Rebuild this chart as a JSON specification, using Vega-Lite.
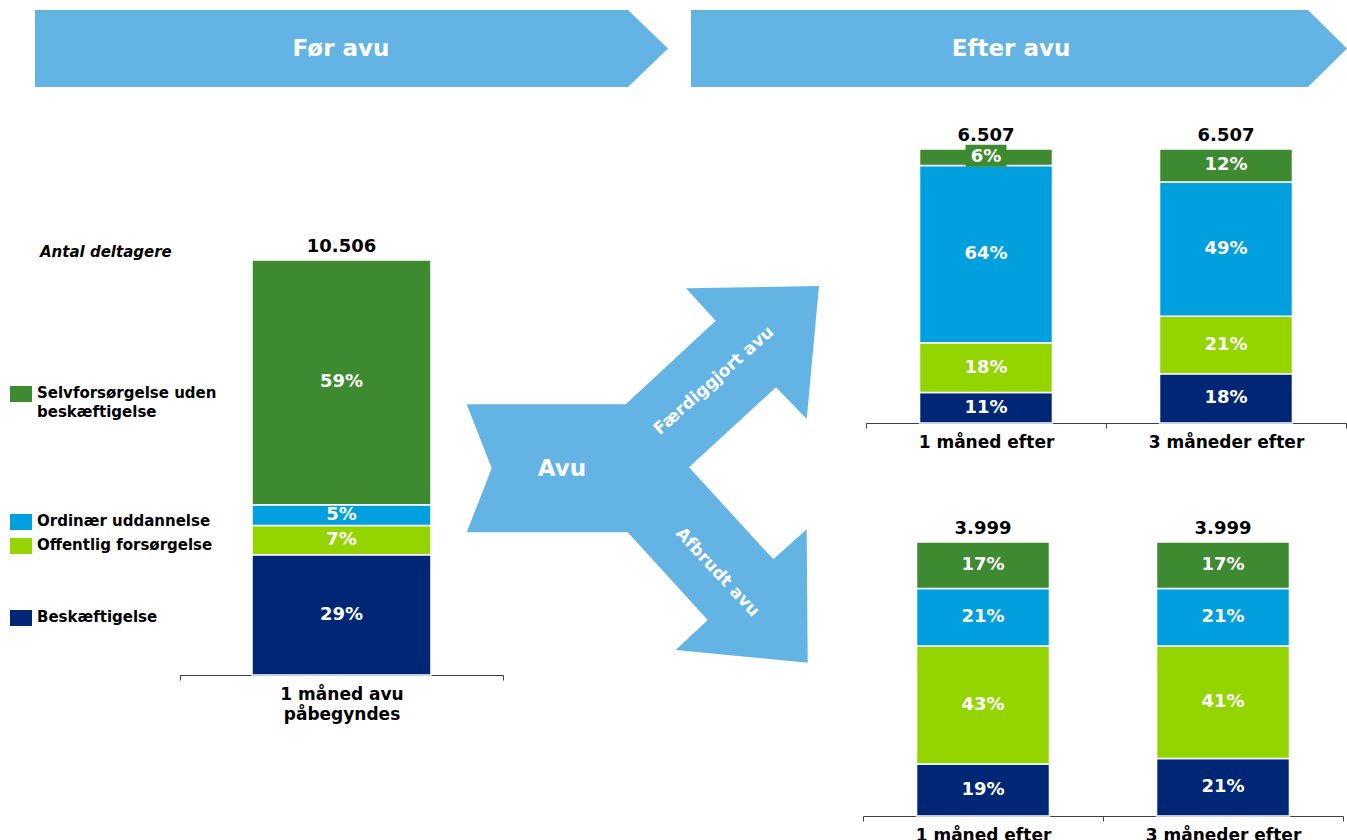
{
  "$schema": "https://vega.github.io/schema/vega-lite/v6.json",
  "width": 1347,
  "height": 840,
  "autosize": {"type": "none"},
  "padding": 0,
  "background": "white",
  "config": {
    "view": {"stroke": null},
    "font": "DejaVu Sans",
    "locale": {"number": {"decimal": ",", "thousands": ".", "grouping": [3], "currency": ["", " kr."]}},
    "axis": {
      "domainColor": "#404040", "domainWidth": 1, "tickColor": "#404040", "tickWidth": 1, "tickSize": 5,
      "tickBand": "extent", "labelFont": "DejaVu Sans", "labelFontSize": 17, "labelFontWeight": "bold",
      "labelColor": "#000000", "labelPadding": 6, "labelLineHeight": 20, "labelAngle": 0, "labelLimit": 500,
      "labelOverlap": false, "grid": false, "title": null
    }
  },
  "datasets": {
    "shares": [
      {"panel": "før", "period": "1 måned avu påbegyndes", "category": "Beskæftigelse", "pct": 29, "n": 10506},
      {"panel": "før", "period": "1 måned avu påbegyndes", "category": "Offentlig forsørgelse", "pct": 7, "n": 10506},
      {"panel": "før", "period": "1 måned avu påbegyndes", "category": "Ordinær uddannelse", "pct": 5, "n": 10506},
      {"panel": "før", "period": "1 måned avu påbegyndes", "category": "Selvforsørgelse uden beskæftigelse", "pct": 59, "n": 10506},
      {"panel": "færdiggjort", "period": "1 måned efter", "category": "Beskæftigelse", "pct": 11, "n": 6507},
      {"panel": "færdiggjort", "period": "1 måned efter", "category": "Offentlig forsørgelse", "pct": 18, "n": 6507},
      {"panel": "færdiggjort", "period": "1 måned efter", "category": "Ordinær uddannelse", "pct": 64, "n": 6507},
      {"panel": "færdiggjort", "period": "1 måned efter", "category": "Selvforsørgelse uden beskæftigelse", "pct": 6, "n": 6507},
      {"panel": "færdiggjort", "period": "3 måneder efter", "category": "Beskæftigelse", "pct": 18, "n": 6507},
      {"panel": "færdiggjort", "period": "3 måneder efter", "category": "Offentlig forsørgelse", "pct": 21, "n": 6507},
      {"panel": "færdiggjort", "period": "3 måneder efter", "category": "Ordinær uddannelse", "pct": 49, "n": 6507},
      {"panel": "færdiggjort", "period": "3 måneder efter", "category": "Selvforsørgelse uden beskæftigelse", "pct": 12, "n": 6507},
      {"panel": "afbrudt", "period": "1 måned efter", "category": "Beskæftigelse", "pct": 19, "n": 3999},
      {"panel": "afbrudt", "period": "1 måned efter", "category": "Offentlig forsørgelse", "pct": 43, "n": 3999},
      {"panel": "afbrudt", "period": "1 måned efter", "category": "Ordinær uddannelse", "pct": 21, "n": 3999},
      {"panel": "afbrudt", "period": "1 måned efter", "category": "Selvforsørgelse uden beskæftigelse", "pct": 17, "n": 3999},
      {"panel": "afbrudt", "period": "3 måneder efter", "category": "Beskæftigelse", "pct": 21, "n": 3999},
      {"panel": "afbrudt", "period": "3 måneder efter", "category": "Offentlig forsørgelse", "pct": 41, "n": 3999},
      {"panel": "afbrudt", "period": "3 måneder efter", "category": "Ordinær uddannelse", "pct": 21, "n": 3999},
      {"panel": "afbrudt", "period": "3 måneder efter", "category": "Selvforsørgelse uden beskæftigelse", "pct": 17, "n": 3999}
    ],
    "banners": [{"header": "Før avu"}, {"header": "Efter avu"}],
    "flows": [{"flow": "Avu"}, {"flow": "Færdiggjort avu"}, {"flow": "Afbrudt avu"}]
  },
  "resolve": {"scale": {"x": "independent", "y": "independent"}},
  "layer": [
    {
      "data": {"name": "banners"},
      "encoding": {
        "x": {"field": "header", "type": "nominal", "sort": null, "scale": {"domain": ["Før avu", "Efter avu"], "range": [6, 1346], "paddingInner": 0, "paddingOuter": 0}, "axis": null},
        "y": {"datum": "header", "type": "nominal", "scale": {"range": [10, 87], "paddingInner": 0, "paddingOuter": 0}, "axis": null}
      },
      "layer": [
        {
          "mark": {"type": "point", "filled": true, "opacity": 1, "size": 4, "strokeWidth": 0, "color": "#63B4E5"},
          "encoding": {
            "shape": {"field": "header", "type": "nominal", "scale": {"domain": ["Før avu", "Efter avu"], "range": ["M-306,-38.5H287L327,0L287,38.5H-306Z", "M-320,-38.5H297L336,0L297,38.5H-320Z"]}, "legend": null}
          }
        },
        {
          "mark": {"type": "text", "color": "white", "font": "DejaVu Sans", "fontSize": 23, "fontWeight": "bold", "baseline": "middle", "align": "center"},
          "encoding": {"text": {"field": "header", "type": "nominal"}}
        }
      ]
    },
    {
      "data": {"name": "flows"},
      "encoding": {
        "x": {"datum": "flow", "type": "nominal", "scale": {"range": [466, 820], "paddingInner": 0, "paddingOuter": 0}, "axis": null},
        "y": {"datum": "flow", "type": "nominal", "scale": {"range": [286, 664], "paddingInner": 0, "paddingOuter": 0}, "axis": null}
      },
      "layer": [
        {
          "transform": [{"filter": "datum.flow == 'Avu'"}],
          "mark": {"type": "point", "filled": true, "opacity": 1, "size": 4, "strokeWidth": 0, "color": "#63B4E5",
                   "shape": "M-176.3,-70.7L-17.3,-70.7L72.7,-154.3L43,-186.7L176,-189L163.7,-56L133,-87.7L46,-7.7L130.3,84.3L163.7,54.3L164.7,187.7L32.7,175L64.7,145L-15.3,57.3L-176.3,57.3L-151.3,-6.7Z"}
        },
        {
          "transform": [{"filter": "datum.flow == 'Avu'"}],
          "mark": {"type": "text", "color": "white", "fontSize": 23, "fontWeight": "bold", "baseline": "middle", "align": "center", "dx": -81, "dy": -6},
          "encoding": {"text": {"field": "flow", "type": "nominal"}}
        },
        {
          "transform": [{"filter": "datum.flow == 'Færdiggjort avu'"}],
          "mark": {"type": "text", "color": "white", "fontSize": 17, "fontWeight": "bold", "baseline": "middle", "align": "center", "angle": -41.6, "dx": 115.7, "dy": -23.4},
          "encoding": {"text": {"field": "flow", "type": "nominal"}}
        },
        {
          "transform": [{"filter": "datum.flow == 'Afbrudt avu'"}],
          "mark": {"type": "text", "color": "white", "fontSize": 17, "fontWeight": "bold", "baseline": "middle", "align": "center", "angle": 47.2, "dx": 121.9, "dy": 11.6},
          "encoding": {"text": {"field": "flow", "type": "nominal"}}
        }
      ]
    },
    {
      "data": {"name": "shares"},
      "transform": [
        {"filter": "datum.panel == 'før'"},
        {"calculate": "indexof(['Beskæftigelse','Offentlig forsørgelse','Ordinær uddannelse','Selvforsørgelse uden beskæftigelse'], datum.category)", "as": "rank"},
        {"stack": "pct", "groupby": ["period"], "sort": [{"field": "rank", "order": "ascending"}], "offset": "normalize", "as": ["y0", "y1"]},
        {"calculate": "(datum.y0 + datum.y1) / 2", "as": "ymid"},
        {"calculate": "datum.pct + '%'", "as": "pctLabel"},
        {"calculate": "datum.category == 'Selvforsørgelse uden beskæftigelse' ? ['Selvforsørgelse uden', 'beskæftigelse'] : datum.category", "as": "legendLabel"}
      ],
      "resolve": {"scale": {"x": "independent", "y": "independent"}},
      "layer": [
        {
          "encoding": {
            "x": {"field": "period", "type": "nominal", "sort": null, "scale": {"range": [180, 503], "paddingInner": 0, "paddingOuter": 0},
                  "axis": {"orient": "bottom", "offset": -165, "title": null, "labelExpr": "datum.value == '1 måned avu påbegyndes' ? ['1 måned avu', 'påbegyndes'] : datum.label"}},
            "y": {"field": "ymid", "type": "quantitative", "scale": {"domain": [0, 1], "range": [675, 260], "nice": false, "zero": false}, "axis": null}
          },
          "layer": [
            {
              "mark": {"type": "bar", "width": {"band": 0.554}, "stroke": "white", "strokeWidth": 1.5},
              "encoding": {
                "y": {"field": "y0", "type": "quantitative", "scale": {"domain": [0, 1], "range": [675, 260], "nice": false, "zero": false}, "axis": null},
                "y2": {"field": "y1"},
                "color": {"field": "category", "type": "nominal", "scale": {"domain": ["Beskæftigelse", "Offentlig forsørgelse", "Ordinær uddannelse", "Selvforsørgelse uden beskæftigelse"], "range": ["#002776", "#94D500", "#00A0DF", "#3E8A30"]}, "legend": null}
              }
            },
            {
              "mark": {"type": "text", "color": "white", "fontSize": 18, "fontWeight": "bold", "baseline": "middle", "align": "center"},
              "encoding": {"text": {"field": "pctLabel", "type": "nominal"}}
            },
            {
              "transform": [{"filter": "datum.y1 > 0.999"}],
              "mark": {"type": "text", "color": "black", "fontSize": 18, "fontWeight": "bold", "baseline": "middle", "align": "center", "dy": -13},
              "encoding": {
                "y": {"field": "y1", "type": "quantitative"},
                "text": {"field": "n", "type": "quantitative", "format": ",d"}
              }
            }
          ]
        },
        {
          "encoding": {
            "x": {"field": "panel", "type": "nominal", "scale": {"range": [10, 32], "paddingInner": 0, "paddingOuter": 0}, "axis": null},
            "y": {"field": "ymid", "type": "quantitative", "scale": {"domain": [0, 1], "range": [676, 276], "nice": false, "zero": false}, "axis": null}
          },
          "layer": [
            {
              "mark": {"type": "point", "filled": true, "opacity": 1, "size": 4, "strokeWidth": 0, "shape": "M-11,-8H11V8H-11Z"},
              "encoding": {
                "color": {"field": "category", "type": "nominal", "scale": {"domain": ["Beskæftigelse", "Offentlig forsørgelse", "Ordinær uddannelse", "Selvforsørgelse uden beskæftigelse"], "range": ["#002776", "#94D500", "#00A0DF", "#3E8A30"]}, "legend": null}
              }
            },
            {
              "mark": {"type": "text", "color": "black", "fontSize": 15, "fontWeight": "bold", "baseline": "top", "align": "left", "dx": 16, "dy": -8, "lineHeight": 19},
              "encoding": {"text": {"field": "legendLabel", "type": "nominal"}}
            },
            {
              "transform": [{"filter": "datum.y1 > 0.999"}],
              "mark": {"type": "text", "color": "black", "fontSize": 15, "fontWeight": "bold", "fontStyle": "italic", "baseline": "middle", "align": "left", "dx": 19, "dy": -24},
              "encoding": {
                "y": {"field": "y1", "type": "quantitative"},
                "text": {"value": "Antal deltagere"}
              }
            }
          ]
        }
      ]
    },
    {
      "data": {"name": "shares"},
      "transform": [
        {"filter": "datum.panel == 'færdiggjort'"},
        {"calculate": "indexof(['Beskæftigelse','Offentlig forsørgelse','Ordinær uddannelse','Selvforsørgelse uden beskæftigelse'], datum.category)", "as": "rank"},
        {"stack": "pct", "groupby": ["period"], "sort": [{"field": "rank", "order": "ascending"}], "offset": "normalize", "as": ["y0", "y1"]},
        {"calculate": "(datum.y0 + datum.y1) / 2", "as": "ymid"},
        {"calculate": "datum.pct + '%'", "as": "pctLabel"}
      ],
      "encoding": {
        "x": {"field": "period", "type": "nominal", "sort": null, "scale": {"range": [866, 1346], "paddingInner": 0, "paddingOuter": 0},
              "axis": {"orient": "bottom", "offset": -417, "title": null}},
        "y": {"field": "ymid", "type": "quantitative", "scale": {"domain": [0, 1], "range": [423, 149], "nice": false, "zero": false}, "axis": null}
      },
      "layer": [
        {
          "mark": {"type": "bar", "width": {"band": 0.554}, "stroke": "white", "strokeWidth": 1.5},
          "encoding": {
            "y": {"field": "y0", "type": "quantitative", "scale": {"domain": [0, 1], "range": [423, 149], "nice": false, "zero": false}, "axis": null},
            "y2": {"field": "y1"},
            "color": {"field": "category", "type": "nominal", "scale": {"domain": ["Beskæftigelse", "Offentlig forsørgelse", "Ordinær uddannelse", "Selvforsørgelse uden beskæftigelse"], "range": ["#002776", "#94D500", "#00A0DF", "#3E8A30"]}, "legend": null}
          }
        },
        {
          "transform": [{"filter": "datum.pct < 10"}],
          "mark": {"type": "point", "filled": true, "opacity": 1, "size": 4, "strokeWidth": 0, "shape": "M-20.5,-12.5H20.5V9.5H-20.5Z"},
          "encoding": {
            "color": {"field": "category", "type": "nominal", "scale": {"domain": ["Beskæftigelse", "Offentlig forsørgelse", "Ordinær uddannelse", "Selvforsørgelse uden beskæftigelse"], "range": ["#002776", "#94D500", "#00A0DF", "#3E8A30"]}, "legend": null}
          }
        },
        {
          "mark": {"type": "text", "color": "white", "fontSize": 18, "fontWeight": "bold", "baseline": "middle", "align": "center"},
          "encoding": {"text": {"field": "pctLabel", "type": "nominal"}}
        },
        {
          "transform": [{"filter": "datum.y1 > 0.999"}],
          "mark": {"type": "text", "color": "black", "fontSize": 18, "fontWeight": "bold", "baseline": "middle", "align": "center", "dy": -13},
          "encoding": {
            "y": {"field": "y1", "type": "quantitative"},
            "text": {"field": "n", "type": "quantitative", "format": ",d"}
          }
        }
      ]
    },
    {
      "data": {"name": "shares"},
      "transform": [
        {"filter": "datum.panel == 'afbrudt'"},
        {"calculate": "indexof(['Beskæftigelse','Offentlig forsørgelse','Ordinær uddannelse','Selvforsørgelse uden beskæftigelse'], datum.category)", "as": "rank"},
        {"stack": "pct", "groupby": ["period"], "sort": [{"field": "rank", "order": "ascending"}], "offset": "normalize", "as": ["y0", "y1"]},
        {"calculate": "(datum.y0 + datum.y1) / 2", "as": "ymid"},
        {"calculate": "datum.pct + '%'", "as": "pctLabel"}
      ],
      "encoding": {
        "x": {"field": "period", "type": "nominal", "sort": null, "scale": {"range": [863, 1343], "paddingInner": 0, "paddingOuter": 0},
              "axis": {"orient": "bottom", "offset": -24, "title": null}},
        "y": {"field": "ymid", "type": "quantitative", "scale": {"domain": [0, 1], "range": [816, 542], "nice": false, "zero": false}, "axis": null}
      },
      "layer": [
        {
          "mark": {"type": "bar", "width": {"band": 0.554}, "stroke": "white", "strokeWidth": 1.5},
          "encoding": {
            "y": {"field": "y0", "type": "quantitative", "scale": {"domain": [0, 1], "range": [816, 542], "nice": false, "zero": false}, "axis": null},
            "y2": {"field": "y1"},
            "color": {"field": "category", "type": "nominal", "scale": {"domain": ["Beskæftigelse", "Offentlig forsørgelse", "Ordinær uddannelse", "Selvforsørgelse uden beskæftigelse"], "range": ["#002776", "#94D500", "#00A0DF", "#3E8A30"]}, "legend": null}
          }
        },
        {
          "mark": {"type": "text", "color": "white", "fontSize": 18, "fontWeight": "bold", "baseline": "middle", "align": "center"},
          "encoding": {"text": {"field": "pctLabel", "type": "nominal"}}
        },
        {
          "transform": [{"filter": "datum.y1 > 0.999"}],
          "mark": {"type": "text", "color": "black", "fontSize": 18, "fontWeight": "bold", "baseline": "middle", "align": "center", "dy": -13},
          "encoding": {
            "y": {"field": "y1", "type": "quantitative"},
            "text": {"field": "n", "type": "quantitative", "format": ",d"}
          }
        }
      ]
    }
  ]
}
